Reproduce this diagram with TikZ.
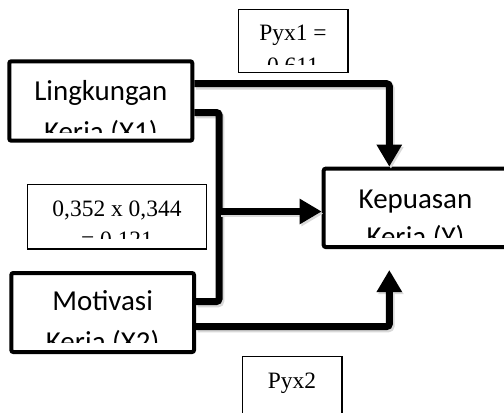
\documentclass[tikz,border=0pt]{standalone}
\usepackage{fontspec}
\setmainfont{Liberation Serif}
\newfontfamily\calfont{Carlito}
\usetikzlibrary{arrows.meta,fit}
\begin{document}
\begin{tikzpicture}[x=0.75pt,y=-0.75pt,
  thickbox/.style={draw=black,line width=3pt,rounded corners=1.5pt,inner sep=0pt,fill=white},
  thinbox/.style={draw=black,line width=0.8pt,inner sep=0pt,fill=white},
  caltext/.style={anchor=base,inner sep=0pt,font=\calfont\fontsize{21.7}{26}\selectfont},
  sertext/.style={anchor=base,inner sep=0pt,font=\fontsize{17.6}{21}\selectfont},
  conn/.style={line width=5.25pt,rounded corners=2pt,
    preaction={draw=black!15,line width=5.5pt,transform canvas={shift={(1.2pt,-1.6pt)}}}},
  arr/.style={-{Triangle[length=16.5pt,width=18pt]}}
]
\clip (0,0) rectangle (504,412);
\fill[white] (0,0) rectangle (504,412);

% boxes
\node[thinbox,fit={(238.5,9.5) (348,72.7)}] (p1) {};
\node[thinbox,fit={(27.5,184.5) (206.5,249)}] (c) {};
\node[thinbox,fit={(242.5,356.5) (342,440)}] (p2) {};
\node[thickbox,fit={(9.3,61.3) (192.3,140.7)}] (l1) {};
\node[thickbox,fit={(11.3,273) (194,352)}] (m) {};
\node[thickbox,fit={(323.7,168.7) (507.5,247)}] (k) {};

% connectors
\coordinate (j) at (219,211.5);
\coordinate (kb) at (389.3,270);
\draw[conn,arr] (l1.east |- 0,83.7) -| (k.north -| 389.3,0);
\draw[conn] (l1.east |- 0,112.5) -| (j) |- (m.east |- 0,301.5);
\draw[conn,arr] (j) -- (k.west |- j);
\draw[conn,arr] (m.east |- 0,326.5) -| (kb);

% texts
\node[caltext] (l1a) at (100.8,100) {Lingkungan};
\begin{scope}
  \clip (l1.north west) rectangle (192.3,132);
  \node[caltext] (l1b) at (100.8,141.4) {Kerja (X1)};
\end{scope}
\node[caltext] (ma) at (102.6,310) {Motivasi};
\begin{scope}
  \clip (m.north west) rectangle (194,342);
  \node[caltext] (mb) at (102.6,351) {Kerja (X2)};
\end{scope}
\node[caltext] (ka) at (415.5,208) {Kepuasan};
\begin{scope}
  \clip (k.north west) rectangle (507,237);
  \node[caltext] (kb2) at (415.5,246.5) {Kerja (Y)};
\end{scope}
\node[sertext] (ca) at (117,216.7) {0,352 x 0,344};
\begin{scope}
  \clip (c.north west) rectangle (206,238);
  \node[sertext] (cb) at (117,247.8) {= 0,121};
\end{scope}
\node[sertext] (p1a) at (293,40) {Pyx1 =};
\begin{scope}
  \clip (p1.north west) rectangle (348,64);
  \node[sertext] (p1b) at (293,73) {0,611};
\end{scope}
\node[sertext] (p2a) at (292,388) {Pyx2};
\end{tikzpicture}
\end{document}
